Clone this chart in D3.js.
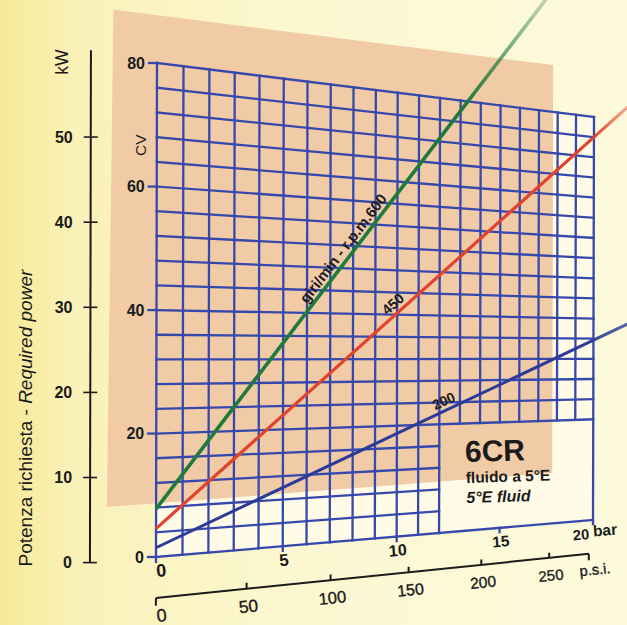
<!DOCTYPE html>
<html><head><meta charset="utf-8">
<script src="https://cdn.jsdelivr.net/npm/d3@7"></script>
<style>html,body{margin:0;padding:0;overflow:hidden;background:#fcf8d6}svg{display:block}</style>
</head><body>
<svg id="chart" width="627" height="625"></svg>
<script>
// ---------------- data ----------------
const barTicks = [0, 5, 10, 15, 20];
const cvTicks = [0, 20, 40, 60, 80];
const kwTicks = [0, 10, 20, 30, 40, 50];
const psiTicks = [0, 50, 100, 150, 200, 250];
const rpmSeries = ["600", "450", "200"];
const cvAtZeroBar = [7.8, 4.6, 1.5];      // CV at 0 bar
const cvAtTwentyBar = [115.9, 76.0, 35.7]; // CV at 20 bar
const seriesNames = ["giri/min - r.p.m.600", "450", "200"];
const titleMain = "Potenza richiesta - ";
const titleEn = "Required power";
const modelName = "6CR";
const fluidIt = "fluido a 5°E";
const fluidEn = "5°E fluid";

// ---------------- styles / layout ----------------
const seriesColors = ["#1f7b3c", "#e2432d", "#2d3b98"];
const seriesWidths = [3.6, 3.2, 3.0];
const seriesEnd = [17.6, 22.2, 22.2];     // how far (bar) the printed line runs past the grid
const seriesFade = [0.25, 0.35, 0.75];
const gridColor = "#3748ad";
const ink = "#1b1b1b";
const FONT = "'Liberation Sans', Arial, Helvetica, sans-serif";

const svg = d3.select("#chart");
const W = 627, H = 625;

// scales in "page" units
const sBar = d3.scaleLinear().domain([0, 20]).range([0, 1]);
const tCv = d3.scaleLinear().domain([0, 80]).range([0, 1]);
const kwToCv = d3.scaleLinear().domain([0, 50]).range([0, 50 / 0.7457]);
const psiToPage = d3.scaleLinear().domain([0, 250]).range([0, 17.6]);

// perspective of the photographed page (unit square -> quad)
function homography(p00, p10, p11, p01) {
  const [x0, y0] = p00, [x1, y1] = p10, [x2, y2] = p11, [x3, y3] = p01;
  const dx1 = x1 - x2, dx2 = x3 - x2, dx3 = x0 - x1 + x2 - x3;
  const dy1 = y1 - y2, dy2 = y3 - y2, dy3 = y0 - y1 + y2 - y3;
  const den = dx1 * dy2 - dx2 * dy1;
  const g = (dx3 * dy2 - dx2 * dy3) / den, h = (dx1 * dy3 - dx3 * dy1) / den;
  const a = x1 - x0 + g * x1, b = x3 - x0 + h * x3, c = x0;
  const d = y1 - y0 + g * y1, e = y3 - y0 + h * y3, f = y0;
  return (s, t) => { const w = g * s + h * t + 1; return [(a * s + b * t + c) / w, (d * s + e * t + f) / w]; };
}
const H0 = homography([156, 557], [593, 520], [594, 117], [157, 63]);
const P = (bar, cv) => H0(sBar(bar), tCv(cv));
const angleAt = (bar, cv) => { const a = P(bar, cv), b = P(bar + 0.5, cv); return Math.atan2(b[1] - a[1], b[0] - a[0]) * 180 / Math.PI; };
const scaleAt = (bar) => (P(bar, 0)[1] - P(bar, 80)[1]) / (P(0, 0)[1] - P(0, 80)[1]);
const pathOf = pts => d3.line()(pts.map(p => P(p[0], p[1])));

// ---------------- background ----------------
const defs = svg.append("defs");
const bg = defs.append("linearGradient").attr("id", "bg").attr("x1", 0).attr("x2", 1).attr("y1", 0).attr("y2", 0);
bg.append("stop").attr("offset", "0").attr("stop-color", "#f6ea98");
bg.append("stop").attr("offset", "0.12").attr("stop-color", "#faf1b8");
bg.append("stop").attr("offset", "0.45").attr("stop-color", "#fcf7d0");
bg.append("stop").attr("offset", "1").attr("stop-color", "#fdfadc");
svg.append("rect").attr("width", W).attr("height", H).attr("fill", "url(#bg)");

// grid paper (white) and peach panel
svg.append("path").attr("d", pathOf([[0, 0], [20, 0], [20, 80], [0, 80]]) + "Z").attr("fill", "#fffbe7");
svg.append("path").attr("d", pathOf([[-1.6, 87.6], [17.75, 89.1], [17.75, 9.8], [-1.8, 8.6]]) + "Z")
  .attr("fill", "#f1cba6");

// ---------------- grid ----------------
const gridG = svg.append("g").attr("stroke", gridColor).attr("stroke-width", 2.3).attr("fill", "none").attr("stroke-linecap", "square");
d3.range(0, 21).forEach(b => {
  const from = (b > 12 && b < 20) ? 20 : 0;
  gridG.append("path").attr("d", pathOf([[b, from], [b, 80]]));
});
d3.range(0, 81, 4).forEach(c => {
  const to = (c > 0 && c < 20) ? 12 : 20;
  gridG.append("path").attr("d", pathOf([[0, c], [to, c]]));
});
// CV ticks
cvTicks.forEach(c => {
  const p = P(0, c);
  gridG.append("line").attr("x1", p[0] - 8).attr("x2", p[0]).attr("y1", p[1]).attr("y2", p[1]);
});
// bar ticks
barTicks.forEach(b => {
  gridG.append("path").attr("d", pathOf([[b, 0], [b, -0.8]]));
});

// ---------------- series lines ----------------
rpmSeries.forEach((r, i) => {
  const cv = d3.scaleLinear().domain([0, 20]).range([cvAtZeroBar[i], cvAtTwentyBar[i]]);
  const exitBar = Math.min(20, cv.invert(80));
  const endBar = seriesEnd[i];
  const pExit = P(exitBar, cv(exitBar)), pEnd = P(endBar, cv(endBar));
  const gid = "fade" + i;
  const lg = defs.append("linearGradient").attr("id", gid).attr("gradientUnits", "userSpaceOnUse")
    .attr("x1", pExit[0]).attr("y1", pExit[1]).attr("x2", pEnd[0]).attr("y2", pEnd[1]);
  lg.append("stop").attr("offset", 0).attr("stop-color", seriesColors[i]).attr("stop-opacity", 0.95);
  lg.append("stop").attr("offset", 1).attr("stop-color", seriesColors[i]).attr("stop-opacity", seriesFade[i]);
  svg.append("path").attr("d", pathOf([[exitBar, cv(exitBar)], [endBar, cv(endBar)]]))
    .attr("stroke", `url(#${gid})`).attr("stroke-width", seriesWidths[i]).attr("fill", "none");
  svg.append("path").attr("d", pathOf([[0, cv(0)], [exitBar, cv(exitBar)]]))
    .attr("stroke", seriesColors[i]).attr("stroke-width", seriesWidths[i]).attr("fill", "none");
});

// series labels along the lines
const labelBars = [7.9, 10.1, 12.4];
const labelSizes = [15, 14.5, 14];
rpmSeries.forEach((r, i) => {
  const cv = d3.scaleLinear().domain([0, 20]).range([cvAtZeroBar[i], cvAtTwentyBar[i]]);
  const b = labelBars[i];
  const a = P(b, cv(b)), c = P(b + 0.5, cv(b + 0.5));
  const ang = Math.atan2(c[1] - a[1], c[0] - a[0]) * 180 / Math.PI;
  svg.append("text").attr("transform", `translate(${a[0]},${a[1]}) rotate(${ang})`)
    .attr("y", -4.5).attr("text-anchor", "middle")
    .attr("font-family", FONT).attr("font-weight", "bold").attr("font-size", labelSizes[i])
    .attr("fill", ink).text(seriesNames[i]);
});

// ---------------- texts on the grid ----------------
const T = svg.append("g").attr("font-family", FONT).attr("fill", ink);
// CV tick labels
cvTicks.forEach(c => {
  const p = P(0, c);
  T.append("text").attr("x", p[0] - 12).attr("y", p[1]).attr("dy", "0.36em").attr("text-anchor", "end")
    .attr("font-weight", "bold").attr("font-size", 16).text(c);
});
// CV label
{ const p = P(0, 66.7);
  T.append("text").attr("transform", `translate(${p[0] - 11},${p[1]}) rotate(-90)`).attr("text-anchor", "middle")
    .attr("font-size", 15.5).text("CV"); }

// bar tick labels
barTicks.forEach(b => {
  const p = P(b, 0), ang = angleAt(b, 0), k = scaleAt(b);
  const anchor = b === 0 ? "start" : (b === 20 ? "end" : "middle");
  const dx = b === 0 ? -1 : (b === 20 ? -5 : 0);
  T.append("text").attr("transform", `translate(${p[0]},${p[1]}) rotate(${ang})`)
    .attr("x", dx).attr("y", 13.5).attr("dy", "0.36em").attr("text-anchor", anchor)
    .attr("font-weight", "bold").attr("font-size", 18 * k).text(b);
});
{ const p = P(20, 0), ang = angleAt(20, 0), k = scaleAt(20);
  T.append("text").attr("transform", `translate(${p[0]},${p[1]}) rotate(${ang})`)
    .attr("x", -1).attr("y", 11).attr("dy", "0.36em").attr("font-weight", "bold").attr("font-size", 19 * k).text("bar"); }

// ---------------- psi axis ----------------
const vPsi = -6.64, psiEnd = 19.77;
const A = svg.append("g").attr("stroke", ink).attr("fill", "none").attr("stroke-width", 2);
A.append("path").attr("d", pathOf([[0, vPsi], [psiEnd, vPsi]]));
[0, psiEnd].forEach(u => A.append("path").attr("d", pathOf([[u, vPsi], [u, vPsi - 1.25]])));
psiTicks.filter(p => p > 0).forEach(p => {
  A.append("path").attr("d", pathOf([[psiToPage(p), vPsi], [psiToPage(p), vPsi + 1.0]]));
});
psiTicks.forEach(p => {
  const u = psiToPage(p), q = P(u, vPsi), ang = angleAt(u, vPsi), k = scaleAt(u);
  T.append("text").attr("transform", `translate(${q[0]},${q[1]}) rotate(${ang})`)
    .attr("x", p === 0 ? 4 : 0).attr("y", 17.5).attr("dy", "0.36em").attr("text-anchor", "middle")
    .attr("stroke", ink).attr("stroke-width", 0.35)
    .attr("font-size", 18 * k).text(p);
});
{ const q = P(psiEnd, vPsi), ang = angleAt(psiEnd, vPsi), k = scaleAt(psiEnd);
  T.append("text").attr("transform", `translate(${q[0]},${q[1]}) rotate(${ang})`)
    .attr("x", -11).attr("y", 16).attr("dy", "0.36em").attr("stroke", ink).attr("stroke-width", 0.35)
    .attr("font-size", 18 * k).text("p.s.i."); }

// ---------------- kW axis ----------------
const uKw = -2.4;
A.append("path").attr("d", pathOf([[uKw, 0], [uKw, kwToCv(60.2)]]));
kwTicks.forEach(k => {
  const p = P(uKw, kwToCv(k));
  A.append("line").attr("x1", p[0] - 7).attr("x2", p[0] + 7).attr("y1", p[1]).attr("y2", p[1]).attr("stroke-width", 1.6);
  T.append("text").attr("x", p[0] - 18).attr("y", p[1]).attr("dy", "0.36em").attr("text-anchor", "end")
    .attr("font-weight", "bold").attr("font-size", 16).text(k);
});
{ const p = P(uKw, kwToCv(60.2));
  T.append("text").attr("transform", `translate(${p[0] - 23},${p[1] + 12}) rotate(-90)`).attr("text-anchor", "middle")
    .attr("font-size", 17.5).text("kW"); }

// left title
{ const p = P(-4.4, 23.0);
  const t = T.append("text").attr("transform", `translate(${p[0]},${p[1]}) rotate(-90)`).attr("text-anchor", "middle")
    .attr("font-size", 19);
  t.append("tspan").text(titleMain);
  t.append("tspan").attr("font-style", "italic").text(titleEn); }

// model box
{ const p = P(13.27, 12.8);
  const g = T.append("g").attr("transform", `translate(${p[0]},${p[1]}) rotate(-1.8)`);
  g.append("text").attr("font-weight", "bold").attr("font-size", 30).text(modelName);
  g.append("text").attr("y", 21).attr("font-weight", "bold").attr("font-size", 15.5).text(fluidIt);
  g.append("text").attr("y", 41).attr("font-weight", "bold").attr("font-style", "italic").attr("font-size", 16).text(fluidEn); }
</script>
</body></html>
